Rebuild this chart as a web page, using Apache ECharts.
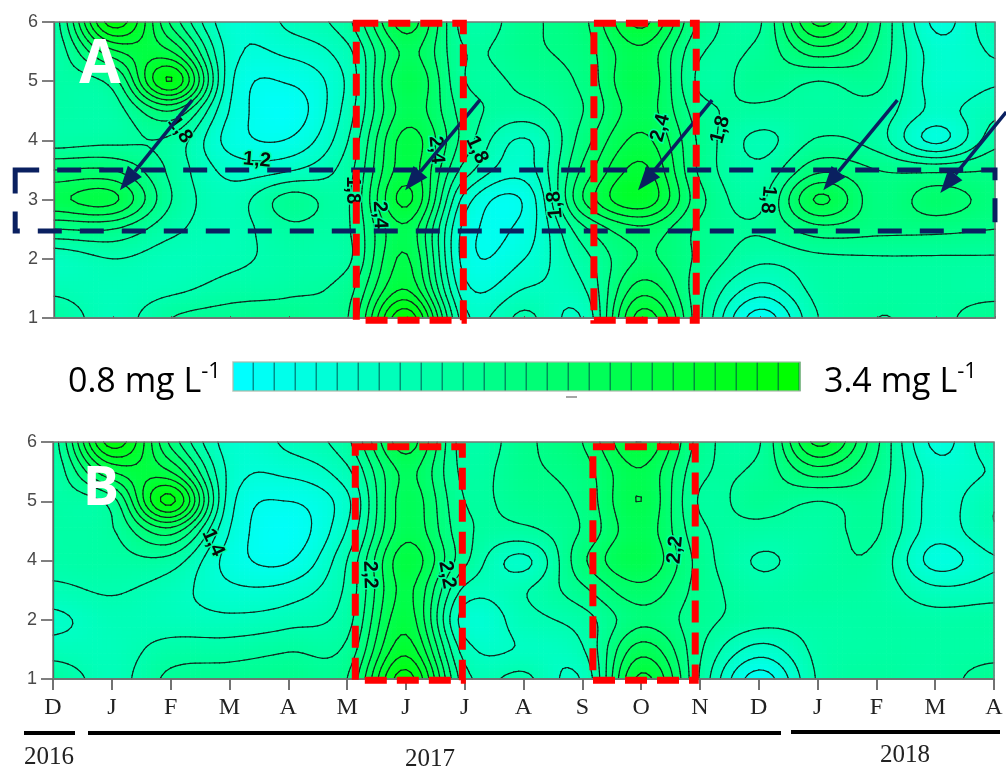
<!DOCTYPE html>
<html><head><meta charset="utf-8">
<style>html,body{margin:0;padding:0;background:#fff}#c{width:1006px;height:767px}</style>
<script src="https://cdn.jsdelivr.net/npm/echarts@6/dist/echarts.min.js"></script>
</head><body><div id="c"></div>
<script>
const monthLabels = ['D','J','F','M','A','M','J','J','A','S','O','N','D','J','F','M','A'];
const depthRowsA = [6,5.5,5,4.5,4,3.5,3,2.5,2,1.5,1];
const depthTicksA = [1,2,3,4,5,6];
// panel B has an uneven depth scale: 1, 2, 4, 5, 6 at equal spacing
const depthTickNamesB = ['1','2','4','5','6'];
const rowsB = [5,4.5,4,3.5,3,2.5,2,1.5,1];
// mg/L by month (Dec 2016 .. Apr 2018), each list runs from depth 6 down to depth 1
const panelA = [
 [1.7,1.65,1.7,1.7,1.7,2.2,2.55,2.0,1.45,1.55,1.75],
 [3.3,2.55,1.9,1.7,1.75,2.2,2.65,2.0,1.6,1.5,1.5],
 [2.15,2.6,3.2,2.2,1.75,1.75,1.8,1.65,1.5,1.55,1.8],
 [1.25,1.3,1.25,1.18,1.12,1.33,1.5,1.52,1.55,1.68,1.9],
 [1.45,1.25,1.02,0.88,1.02,1.38,1.88,1.75,1.68,1.74,1.95],
 [1.75,1.55,1.45,1.5,1.6,1.72,1.78,1.78,1.76,1.92,2.0],
 [2.7,2.45,2.58,2.5,2.68,2.7,2.85,2.55,2.62,2.78,3.35],
 [1.7,1.8,1.8,1.9,1.9,1.7,1.3,1.12,1.1,1.25,1.45],
 [1.95,1.95,1.85,1.72,1.38,1.3,1.03,1.08,1.2,1.4,1.65],
 [2.15,2.1,2.05,2.0,2.1,2.25,2.4,1.95,1.72,1.58,1.42],
 [2.85,2.55,2.58,2.5,2.65,2.85,2.95,2.35,2.22,2.5,2.9],
 [1.95,1.82,1.75,1.88,1.95,1.95,2.05,1.95,1.95,1.85,1.82],
 [1.78,1.85,1.9,1.75,1.55,1.65,1.75,1.82,1.65,1.33,0.9],
 [2.85,2.3,1.8,1.75,1.82,2.15,2.63,2.12,1.75,1.68,1.6],
 [2.05,1.95,1.85,1.72,1.7,2.0,2.08,2.05,1.78,1.74,1.8],
 [1.15,1.3,1.3,1.35,1.15,1.95,2.3,2.05,1.78,1.75,1.75],
 [1.55,1.42,1.38,1.55,1.72,2.0,2.12,2.0,1.78,1.72,1.92]
];
const panelB = [
 [1.7,1.65,1.7,1.7,1.68,1.55,1.35,1.5,1.75],
 [3.3,2.6,1.9,1.78,1.72,1.62,1.52,1.5,1.52],
 [2.15,2.6,3.25,2.3,1.72,1.5,1.5,1.68,1.85],
 [1.3,1.35,1.3,1.2,1.12,1.25,1.45,1.7,1.9],
 [1.45,1.25,1.0,0.88,0.98,1.28,1.52,1.78,1.95],
 [1.75,1.55,1.35,1.42,1.6,1.65,1.72,1.85,2.0],
 [2.7,2.45,2.5,2.52,2.72,2.65,2.72,2.92,3.3],
 [1.7,1.75,1.8,1.85,1.85,1.55,1.3,1.5,1.68],
 [1.95,1.95,1.9,1.75,1.35,1.58,1.52,1.42,1.65],
 [2.2,2.1,2.05,2.02,2.15,1.95,1.7,1.58,1.42],
 [2.8,2.58,2.6,2.52,2.59,2.33,2.15,2.5,2.85],
 [1.92,1.85,1.78,1.85,1.92,1.92,1.88,1.83,1.78],
 [1.78,1.85,1.9,1.72,1.58,1.68,1.68,1.32,0.9],
 [2.85,2.3,1.8,1.72,1.72,1.75,1.68,1.65,1.62],
 [2.05,1.95,1.85,1.82,1.75,1.72,1.72,1.72,1.78],
 [1.15,1.3,1.32,1.3,1.12,1.45,1.68,1.72,1.72],
 [1.55,1.42,1.58,1.58,1.38,1.5,1.72,1.72,1.9]
];
const contourLevels = [0.8,1.0,1.2,1.4,1.6,1.8,2.0,2.2,2.4,2.6,2.8,3.0,3.2];
const legendValues = [0.8,0.9,1.0,1.1,1.2,1.3,1.4,1.5,1.6,1.7,1.8,1.9,2.0,2.1,2.2,2.3,2.4,2.5,2.6,2.7,2.8,2.9,3.0,3.1,3.2,3.3,3.4];
const labelsA = [['1,8',2.14,4.18,55],['1,2',3.45,3.67,5],['1,8',5.08,3.16,90],['2,4',5.54,2.74,88],['2,4',6.5,3.84,85],['1,8',7.19,3.84,65],['1,8',8.52,2.91,-95],['2,4',10.31,4.21,-75],['1,8',11.33,4.18,-75],['1,8',12.14,3.0,95]];
const labelsB = [['1,4',2.72,3.3,65],['2,2',5.39,2.76,88],['2,2',6.7,2.76,80],['2,2',10.58,3.18,-85]];
const yearLabels = ['2016','2017','2018'];

const SUB_X = 12, SUB_Y = 8;
const color = v => { const t = Math.max(0, Math.min(1, (v - 0.8) / 2.6)); return 'rgb(0,255,' + Math.round(255 * (1 - t)) + ')'; };
const cr = (a,b,c,d,t) => 0.5*((2*b)+(-a+c)*t+(2*a-5*b+4*c-d)*t*t+(-a+3*b-3*c+d)*t*t*t);
function smoothField(cols, rows) {
  const nc = cols.length, nr = rows.length;
  const at = (i,j) => cols[Math.max(0,Math.min(nc-1,i))][Math.max(0,Math.min(nr-1,j))];
  const sample = (x,y) => {
    const i = Math.min(nc-2,Math.floor(x)), j = Math.min(nr-2,Math.floor(y)), tx = x-i, ty = y-j, p = [];
    for (let k=-1;k<=2;k++) p.push(cr(at(i-1,j+k),at(i,j+k),at(i+1,j+k),at(i+2,j+k),tx));
    return cr(p[0],p[1],p[2],p[3],ty);
  };
  const W = (nc-1)*SUB_X+1, H = (nr-1)*SUB_Y+1, g = [];
  for (let a=0;a<W;a++){ const c=[]; for(let b=0;b<H;b++) c.push(sample(a/SUB_X,b/SUB_Y)); g.push(c); }
  return {g,W,H};
}
function build(cols, rows) {
  const {g,W,H} = smoothField(cols, rows);
  const X = a => a/SUB_X;
  const Y = b => { const p=b/SUB_Y, j=Math.min(rows.length-2,Math.floor(p)); return rows[j]+(rows[j+1]-rows[j])*(p-j); };
  const cells=[], segs=[];
  for (let a=0;a<W-1;a++) for (let b=0;b<H-1;b++) {
    const v=(g[a][b]+g[a+1][b]+g[a][b+1]+g[a+1][b+1])/4;
    cells.push([X(a),Y(b),X(a+1),Y(b+1),v]);
    const x0=X(a),x1=X(a+1),y0=Y(b),y1=Y(b+1),p=g[a][b],q=g[a+1][b],r=g[a+1][b+1],s=g[a][b+1];
    for (const L of contourLevels) {
      const pts=[];
      if ((p<L)!==(q<L)) pts.push([x0+(x1-x0)*(L-p)/(q-p),y0]);
      if ((q<L)!==(r<L)) pts.push([x1,y0+(y1-y0)*(L-q)/(r-q)]);
      if ((s<L)!==(r<L)) pts.push([x0+(x1-x0)*(L-s)/(r-s),y1]);
      if ((p<L)!==(s<L)) pts.push([x0,y0+(y1-y0)*(L-p)/(s-p)]);
      if (pts.length===2) segs.push([pts[0][0],pts[0][1],pts[1][0],pts[1][1]]);
      if (pts.length===4) { segs.push([pts[0][0],pts[0][1],pts[1][0],pts[1][1]]); segs.push([pts[2][0],pts[2][1],pts[3][0],pts[3][1]]); }
    }
  }
  return {cells,segs};
}
const A = build(panelA, depthRowsA), B = build(panelB, rowsB);

const renderCell = (params, api) => {
  const p0=api.coord([api.value(0),api.value(1)]), p1=api.coord([api.value(2),api.value(3)]);
  const x=Math.min(p0[0],p1[0]), y=Math.min(p0[1],p1[1]);
  return {type:'rect',silent:true,shape:{x:x,y:y,width:Math.abs(p1[0]-p0[0])+0.7,height:Math.abs(p1[1]-p0[1])+0.7},style:{fill:color(api.value(4))}};
};
const renderSeg = (params, api) => {
  const a=api.coord([api.value(0),api.value(1)]), b=api.coord([api.value(2),api.value(3)]);
  return {type:'line',silent:true,shape:{x1:a[0],y1:a[1],x2:b[0],y2:b[1]},style:{stroke:'#10281f',lineWidth:1.2,lineCap:'round'}};
};
const renderText = (params, api) => {
  const a=api.coord([api.value(1),api.value(2)]);
  return {type:'text',silent:true,x:a[0],y:a[1],rotation:-api.value(3)*Math.PI/180,
    style:{text:String(api.value(0)),font:'bold 20px "Liberation Sans"',fill:'#0a0a0a',align:'center',verticalAlign:'middle',stroke:'rgba(0,255,165,0.9)',lineWidth:3}};
};
const renderLegend = (params, api) => {
  const a=api.coord([params.dataIndex,0]), b=api.coord([params.dataIndex+1,1]);
  return {type:'group',children:[
    {type:'rect',silent:true,shape:{x:a[0],y:b[1],width:b[0]-a[0]+0.5,height:a[1]-b[1]},style:{fill:color(api.value(0))}},
    {type:'rect',silent:true,shape:{x:b[0]-1.5,y:b[1],width:2,height:a[1]-b[1]},style:{fill:'rgba(0,70,70,0.6)'}}
  ]};
};
const custom = (id,grid,data,render,dims,z) => ({type:'custom',id:id,xAxisIndex:grid,yAxisIndex:grid,data:data,renderItem:render,
  encode:dims,z:z,animation:false,silent:true,progressive:0,clip:false});
const axisLabel = {color:'#4a4a4a',fontFamily:'Liberation Sans',fontSize:18,margin:16};
const axisLineY = {show:true,lineStyle:{color:'#222',width:1.2}};
const axisTickY = {show:true,length:12,lineStyle:{color:'#555',width:1.5}};

const chart = echarts.init(document.getElementById('c'),null,{renderer:'canvas'});
chart.setOption({
  animation:false,backgroundColor:'#fff',
  grid:[{left:54,top:22,width:941,height:296},{left:53,top:442,width:941,height:237},{left:233,top:362,width:567,height:29}],
  xAxis:[
    {type:'value',gridIndex:0,min:0,max:16,interval:1,z:5,splitLine:{show:false},axisLabel:{show:false},axisTick:{show:true,inside:true,length:2,lineStyle:{color:'#555'}},axisLine:{show:true,lineStyle:{color:'#666',width:1.5}}},
    {type:'value',gridIndex:1,min:0,max:16,interval:1,z:5,splitLine:{show:false},axisTick:{show:true,length:11,lineStyle:{color:'#444',width:1.5}},axisLine:{show:true,lineStyle:{color:'#555',width:1.5}},
      axisLabel:{color:'#222',fontFamily:'Liberation Serif',fontSize:24,margin:17,showMinLabel:true,showMaxLabel:true,formatter:v=>monthLabels[v]}},
    {type:'value',gridIndex:2,min:0,max:legendValues.length,show:false}
  ],
  yAxis:[
    {type:'value',gridIndex:0,min:1,max:6,interval:1,z:5,splitLine:{show:false},axisLine:axisLineY,axisTick:axisTickY,axisLabel:axisLabel},
    {type:'value',gridIndex:1,min:1,max:5,interval:1,z:5,splitLine:{show:false},axisLine:axisLineY,axisTick:axisTickY,axisLabel:Object.assign({},axisLabel,{formatter:v=>depthTickNamesB[v-1]})},
    {type:'value',gridIndex:2,min:0,max:1,show:false}
  ],
  series:[
    custom('cellsA',0,A.cells,renderCell,{x:[0,2],y:[1,3]},1),
    custom('cellsB',1,B.cells,renderCell,{x:[0,2],y:[1,3]},1),
    custom('segsA',0,A.segs,renderSeg,{x:[0,2],y:[1,3]},2),
    custom('segsB',1,B.segs,renderSeg,{x:[0,2],y:[1,3]},2),
    custom('textA',0,labelsA,renderText,{x:1,y:2},3),
    custom('textB',1,labelsB,renderText,{x:1,y:2},3),
    custom('legend',2,legendValues.map(v=>[v]),renderLegend,{},3)
  ]
});

// annotations, placed in the axes' own units
const NAVY='#0a2060', RED='#ff0000';
const pxA = (m,d) => chart.convertToPixel({gridIndex:0},[m,d]);
const pxB = (m,r) => chart.convertToPixel({gridIndex:1},[m,r]);
const redBoxesMonths = [[5.14,6.96],[9.18,10.92]];
const g = [];
function box(p,q,stroke,w,dash,z){ g.push({type:'rect',z:z,shape:{x:p[0],y:p[1],width:q[0]-p[0],height:q[1]-p[1]},style:{fill:'none',stroke:stroke,lineWidth:w,lineDash:dash}}); }
box(pxA(0,6),pxA(16,1),'#777',1.5,null,20);
box(pxB(0,5),pxB(16,1),'#777',1.5,null,20);
box(pxA(-0.66,3.5),pxA(16,2.47),NAVY,5,[24,18],30);
const arrows = [[2.35,4.68,1.12,3.16],[7.24,4.68,5.97,3.16],[11.19,4.68,9.93,3.16],[14.34,4.68,13.08,3.16],[16.19,4.48,15.07,3.11]];
arrows.forEach(a=>{
  const s=pxA(a[0],a[1]), t=pxA(a[2],a[3]), dx=t[0]-s[0], dy=t[1]-s[1], L=Math.hypot(dx,dy), ux=dx/L, uy=dy/L, h=24, w=9;
  const bx=t[0]-ux*h, by=t[1]-uy*h;
  g.push({type:'line',z:31,shape:{x1:s[0],y1:s[1],x2:bx,y2:by},style:{stroke:NAVY,lineWidth:3.5}});
  g.push({type:'polygon',z:31,shape:{points:[t,[bx-uy*w,by+ux*w],[bx+uy*w,by-ux*w]]},style:{fill:NAVY}});
});
redBoxesMonths.forEach(m=>{
  box(pxA(m[0],5.98),pxA(m[1],0.96),RED,7,[22,10],40);
  box(pxB(m[0],4.92),pxB(m[1],0.98),RED,7,[22,10],40);
});
const unitText=(x,val)=>({type:'text',z:50,x:x,y:380,style:{text:'{n|'+val+' mg L}{s|-1}',rich:{n:{font:'34px "Open Sans"',fill:'#000',verticalAlign:'bottom'},s:{font:'22px "Open Sans"',fill:'#000',verticalAlign:'top',padding:[0,0,16,0]}},verticalAlign:'middle'}});
g.push(unitText(68,'0.8'),unitText(824,'3.4'));
g.push({type:'rect',z:49,shape:{x:233,y:362,width:567,height:29},style:{fill:'none',stroke:'rgba(170,185,170,0.8)',lineWidth:1.5}});
g.push({type:'line',z:49,shape:{x1:566,y1:397,x2:577,y2:397},style:{stroke:'#888',lineWidth:1.5}});
g.push({type:'text',z:50,x:100,y:66,style:{text:'A',font:'bold 60px "Open Sans"',fill:'#fff',align:'center',verticalAlign:'middle'}});
g.push({type:'text',z:50,x:101,y:490,style:{text:'B',font:'bold 54px "Open Sans"',fill:'#fff',align:'center',verticalAlign:'middle'}});
[[24,75,733],[88,781,733],[791,1000,732]].forEach(b=>g.push({type:'line',z:10,shape:{x1:b[0],y1:b[2],x2:b[1],y2:b[2]},style:{stroke:'#000',lineWidth:4}}));
[[49,757],[430,759],[905,755]].forEach((p,i)=>g.push({type:'text',z:10,x:p[0],y:p[1],style:{text:yearLabels[i],font:'25px "Liberation Serif"',fill:'#222',align:'center',verticalAlign:'middle'}}));
chart.setOption({graphic:g});
</script></body></html>
